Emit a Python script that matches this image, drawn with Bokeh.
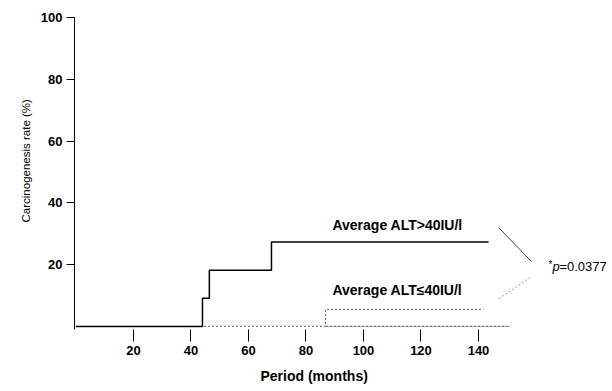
from bokeh.plotting import figure
from bokeh.models import Range1d, FixedTicker, Label, Title
from bokeh.core.properties import value
from bokeh.embed import file_html
from bokeh.resources import INLINE

# Data
high_x = [0, 44, 46.4, 68, 143.5]        # Average ALT>40IU/l (months)
high_y = [0, 9.1, 18.2, 27.3, 27.3]      # carcinogenesis rate (%)
low_x = [0, 86.8, 141.7]                 # Average ALT<=40IU/l (months)
low_y = [0, 5.5, 5.5]
low_base_x = [86.8, 151]
low_base_y = [0, 0]

x_ticks = [20, 40, 60, 80, 100, 120, 140]
y_ticks = [20, 40, 60, 80, 100]

label_text = ["Average ALT>40IU/l", "Average ALT\u226440IU/l"]
label_x = [89.2, 89.2]
label_y = [32.9, 11.9]

conn_x0 = [147.0, 158.0]
conn_y0 = [32.0, 15.8]
conn_x1 = [158.4, 146.6]
conn_y1 = [21.0, 8.7]

p_x = 164.3
p_y = 19.4

FONT = "Liberation Sans"

p = figure(width=612, height=391, output_backend="svg", toolbar_location=None,
           x_range=Range1d(-0.5, 186.6), y_range=Range1d(-1, 100),
           min_border_left=74, min_border_right=0, min_border_top=17, min_border_bottom=61)
p.outline_line_color = None
p.xgrid.visible = False
p.ygrid.visible = False
p.background_fill_color = "white"

# axes
p.xaxis.ticker = FixedTicker(ticks=x_ticks)
p.yaxis.ticker = FixedTicker(ticks=y_ticks)
p.xaxis.axis_line_color = None
p.xaxis.major_tick_in = 0
p.xaxis.major_tick_out = 12
p.xaxis.minor_tick_line_color = None
p.xaxis.major_label_standoff = 4
p.xaxis.major_label_text_font = FONT
p.xaxis.major_label_text_font_style = "bold"
p.xaxis.major_label_text_font_size = "13px"
p.xaxis.major_label_text_color = "black"
p.xaxis.major_tick_line_color = "black"

p.yaxis.axis_line_color = "black"
p.yaxis.major_tick_in = 0
p.yaxis.major_tick_out = 8
p.yaxis.minor_tick_line_color = None
p.yaxis.major_label_standoff = 4
p.yaxis.major_label_text_font = FONT
p.yaxis.major_label_text_font_style = "bold"
p.yaxis.major_label_text_font_size = "13px"
p.yaxis.major_label_text_color = "black"

yt = Title(text="Carcinogenesis rate (%)", align="left", offset=107, standoff=12,
           text_font=FONT, text_font_style="normal", text_font_size="11.5px",
           text_color="black")
p.add_layout(yt, "left")

xt = Title(text="Period (months)", align="left", offset=186, standoff=16,
           text_font=FONT, text_font_style="bold", text_font_size="14px",
           text_color="black")
p.add_layout(xt, "below")

# curves
p.step(low_x, low_y, mode="after", line_color="#777777", line_width=1.2, line_dash="2 2")
p.line(low_base_x, low_base_y, line_color="#777777", line_width=1.2, line_dash="3 1")
p.step(high_x, high_y, mode="after", line_color="black", line_width=1.5)

# labels
p.text(x=label_x, y=label_y, text=label_text, text_font=value(FONT),
       text_font_style="bold", text_font_size="14px", text_baseline="middle",
       text_align="left", text_color="black")

# connectors
p.segment(x0=conn_x0[:1], y0=conn_y0[:1], x1=conn_x1[:1], y1=conn_y1[:1],
          line_color="#444444", line_width=1)
p.segment(x0=conn_x0[1:], y0=conn_y0[1:], x1=conn_x1[1:], y1=conn_y1[1:],
          line_color="#999999", line_width=1, line_dash="2 2")

# p-value
for txt, off, style, dy, fs in [("*", 0, "normal", 2, "10px"), ("p", 4, "italic", 0, "13px"),
                                ("=0.0377", 11, "normal", 0, "13px")]:
    p.add_layout(Label(x=p_x, y=p_y, x_offset=off, y_offset=dy, text=txt,
                       text_font=FONT, text_font_style=style, text_font_size=fs,
                       text_baseline="middle", text_color="black"))

open("out.html", "w").write(file_html(p, INLINE))
